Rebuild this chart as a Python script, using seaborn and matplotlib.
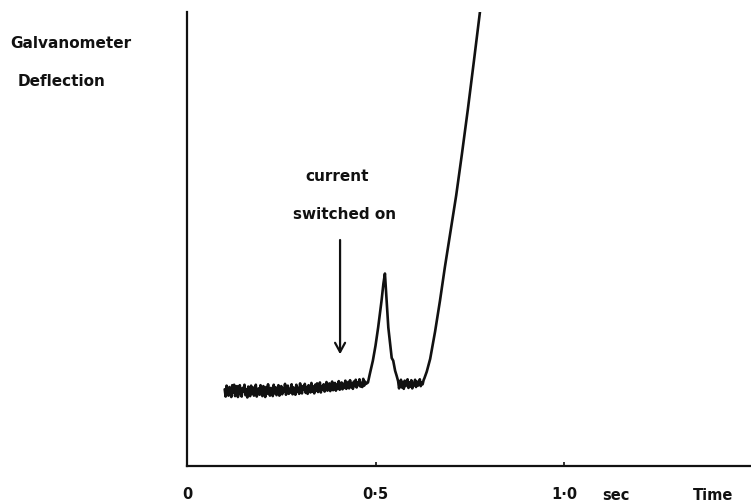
import numpy as np
import pandas as pd
import matplotlib
matplotlib.use("Agg")
import matplotlib.pyplot as plt
import seaborn as sns

# Galvanometer record: deflection (arbitrary units, 0-100 full scale) against time (s)

# Noisy resting trace before the current is switched on, one reading every 2.5 ms
rest_start, rest_step = 0.100, 0.0025
rest_deflection = [
    16.9, 15.3, 17.7, 16.0, 15.5, 17.4, 16.5, 15.2, 17.8, 16.2,
    17.9, 15.4, 16.8, 17.6, 15.2, 16.1, 17.8, 15.9, 15.3, 17.2, 16.4, 17.9, 15.6, 16.9, 15.1,
    17.5, 16.2, 15.4, 17.7, 16.0, 17.3, 15.5, 16.6, 17.9, 15.3, 16.4, 17.1, 15.7, 17.8, 16.1,
    15.4, 17.6, 16.8, 15.2, 17.4, 15.9, 18.0, 16.3, 15.5, 17.2, 16.7, 15.4, 17.9, 16.0, 17.3,
    15.6, 16.9, 17.8, 15.5, 16.2, 17.6, 15.8, 17.1, 16.4, 18.1, 15.7, 16.5, 17.7, 15.9, 17.0,
    16.2, 18.0, 15.8, 17.3, 16.6, 15.7, 17.9, 16.4, 17.2, 15.9, 18.2, 16.5, 16.0, 17.6, 16.8,
    18.1, 16.1, 17.4, 15.9, 17.8, 16.7, 16.2, 18.3, 16.4, 17.5, 16.0, 17.9, 16.6, 18.2, 16.3,
    17.1, 18.4, 16.2, 17.6, 16.8, 18.0, 16.4, 17.3, 18.5, 16.6, 17.0, 18.2, 16.5, 17.7, 18.6,
    16.7, 17.4, 18.3, 16.6, 17.9, 17.0, 18.7, 16.8, 17.5, 18.4, 16.9, 18.1, 17.2, 18.8, 17.0,
    17.8, 18.5, 17.1, 18.9, 17.4, 18.2, 17.0, 18.6, 17.6, 19.0, 17.3, 18.4, 17.8, 19.1, 17.5,
    18.3, 17.4, 19.2, 17.7, 18.6, 18.1,
]

# Transient spike
spike_time = [0.480, 0.485, 0.493, 0.500, 0.507, 0.516, 0.521, 0.525, 0.528,
              0.534, 0.540, 0.543, 0.547, 0.552, 0.556]
spike_deflection = [18.4, 20.3, 23.2, 26.5, 30.5, 36.4, 40.2, 42.4, 38.5,
                    30.5, 26.0, 23.8, 23.2, 21.0, 19.9]

# Noisy plateau after the spike
plateau_start, plateau_step = 0.560, 0.0025
plateau_deflection = [
    18.7, 17.1, 18.2, 19.0, 17.3, 18.5, 17.0, 18.8, 17.6, 18.1,
    19.1, 17.2, 18.4, 17.5, 18.9, 17.1, 18.3, 17.8, 19.0, 17.4,
    18.6, 17.7, 18.2, 19.1, 17.6, 18.4, 18.0, 18.9,
]

# Main rise, running off the top of the scale
rise_time = [0.630, 0.636, 0.645, 0.658, 0.671, 0.684, 0.698, 0.714,
             0.729, 0.745, 0.761, 0.777]
rise_deflection = [19.4, 20.8, 23.6, 29.6, 36.4, 43.8, 51.2, 59.6,
                   68.6, 78.6, 89.2, 100.0]

tick_values = [0.0, 0.5, 1.0]
tick_labels = ["0", "0·5", "1·0"]

rest_time = np.round(rest_start + rest_step * np.arange(len(rest_deflection)), 4)
plateau_time = np.round(plateau_start + plateau_step * np.arange(len(plateau_deflection)), 4)

trace = pd.DataFrame({
    "time": np.concatenate([rest_time, spike_time, plateau_time, rise_time]),
    "deflection": np.concatenate([rest_deflection, spike_deflection,
                                  plateau_deflection, rise_deflection]),
})

sns.set_theme(style="white")
plt.rcParams["font.family"] = ["DejaVu Sans"]

fig = plt.figure(figsize=(7.51, 5.04), dpi=100)
ax = fig.add_axes([0.249, 0.0754, 0.751, 0.9006])

sns.lineplot(data=trace, x="time", y="deflection", ax=ax, estimator=None,
             sort=False, color="#111111", linewidth=1.9)

ax.set_xlim(0, 1.496)
ax.set_ylim(0, 100)
ax.set_xlabel("")
ax.set_ylabel("")
ax.set_yticks([])
ax.set_xticks(tick_values)
ax.set_xticklabels(tick_labels, fontsize=10.5, fontweight="bold", color="#111111")
ax.tick_params(axis="x", direction="in", length=3, width=1.2, pad=15,
               color="#111111", bottom=True)

for side in ("top", "right"):
    ax.spines[side].set_visible(False)
for side in ("left", "bottom"):
    ax.spines[side].set_color("#111111")
    ax.spines[side].set_linewidth(1.6)

# Axis titles
fig.text(10 / 751, 1 - 44 / 504, "Galvanometer", fontsize=11, fontweight="bold",
         ha="left", va="center", color="#111111")
fig.text(18 / 751, 1 - 82 / 504, "Deflection", fontsize=11, fontweight="bold",
         ha="left", va="center", color="#111111")

xlab = ax.get_xaxis_transform()
ax.text(1.138, -0.0645, "sec", transform=xlab, fontsize=10.5, fontweight="bold",
        ha="center", va="center", color="#111111")
ax.text(1.395, -0.0645, "Time", transform=xlab, fontsize=10.5, fontweight="bold",
        ha="center", va="center", color="#111111")

# Switch-on marker
ax.annotate("", xy=(0.406, 24.0), xytext=(0.406, 50.4),
            arrowprops=dict(arrowstyle="->,head_length=0.55,head_width=0.3",
                            color="#111111", lw=1.6))
ax.text(0.398, 63.7, "current", fontsize=11, fontweight="bold",
        ha="center", va="center", color="#111111")
ax.text(0.419, 55.3, "switched on", fontsize=11, fontweight="bold",
        ha="center", va="center", color="#111111")

fig.savefig("out.png", dpi=100, facecolor="white")
